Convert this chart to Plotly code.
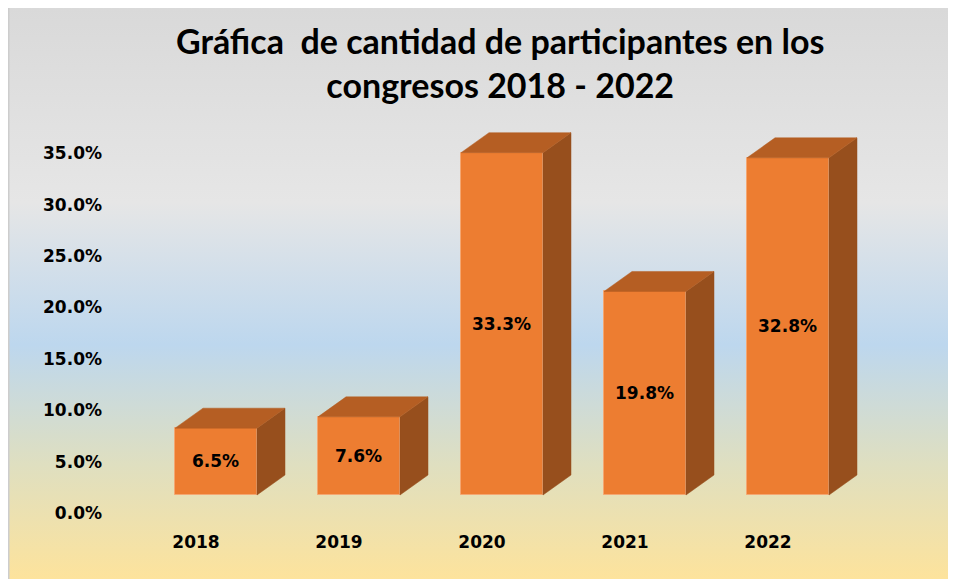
import base64
import plotly.graph_objects as go

# ---------------- data ----------------
years = ["2018", "2019", "2020", "2021", "2022"]
shares = [0.065, 0.076, 0.333, 0.198, 0.328]
y_ticks = [0.0, 0.05, 0.10, 0.15, 0.20, 0.25, 0.30, 0.35]
title_text = "Gráfica  de cantidad de participantes en los<br>congresos 2018 - 2022"

# ---------------- styling / geometry ----------------
OFF = 8                      # page body margin
W_FIG, H_FIG = 956 - OFF, 579 - OFF
PLOT_L, PLOT_R, PLOT_T, PLOT_B = 110, 900, 110, 530   # screen pixels
L, T = PLOT_L - OFF, PLOT_T - OFF
PW, PH = PLOT_R - PLOT_L, PLOT_B - PLOT_T
R, B = W_FIG - L - PW, H_FIG - T - PH
CAT_PX = 143.0       # pixels per category
CENTER0_PX = 216.0   # screen x of first bar centre
LABEL0_PX = 196.0    # screen x of first category label
PX_PER_UNIT = 1028.0 # pixels per 1.0 (=100%)
BASE_PX = 495.0      # screen y of the bar front base
TICK0_PX = 513.0     # screen y of the 0.0% tick label

bar_w = 82.0 / CAT_PX
dx = 28.0 / CAT_PX
dy = 20.0 / PX_PER_UNIT

FRONT = "#ED7D31"
TOP = "#B55E23"
SIDE = "#974F1D"
FONT = "DejaVu Sans"

x_pos = list(range(len(years)))

xmin = -(CENTER0_PX - PLOT_L) / CAT_PX
x_range = [xmin, xmin + PW / CAT_PX]
xmin2 = -(LABEL0_PX - PLOT_L) / CAT_PX
x_range2 = [xmin2, xmin2 + PW / CAT_PX]
ymin = -(PLOT_B - BASE_PX) / PX_PER_UNIT
y_range = [ymin, ymin + PH / PX_PER_UNIT]
ymin2 = -(PLOT_B - TICK0_PX) / PX_PER_UNIT
y_range2 = [ymin2, ymin2 + PH / PX_PER_UNIT]

# 3D faces derived from the data
top_x, top_y, side_x, side_y = [], [], [], []
for xc, v in zip(x_pos, shares):
    xl, xr = xc - bar_w / 2, xc + bar_w / 2
    top_x += [xl, xr, xr + dx, xl + dx, xl, None]
    top_y += [v, v, v + dy, v + dy, v, None]
    side_x += [xr, xr, xr + dx, xr + dx, xr, None]
    side_y += [0, v, v + dy, dy, 0, None]

fig = go.Figure()
fig.add_trace(go.Scatter(x=side_x, y=side_y, fill="toself", fillcolor=SIDE,
                         mode="lines", line=dict(color=SIDE, width=0.5),
                         hoverinfo="skip", showlegend=False))
fig.add_trace(go.Scatter(x=top_x, y=top_y, fill="toself", fillcolor=TOP,
                         mode="lines", line=dict(color=TOP, width=0.5),
                         hoverinfo="skip", showlegend=False))
fig.add_trace(go.Bar(x=x_pos, y=shares, width=bar_w,
                     marker=dict(color=FRONT, line=dict(color="#F4A772", width=1)),
                     texttemplate="%{y:.1%}", textposition="inside",
                     insidetextanchor="middle", textangle=0,
                     textfont=dict(family=FONT, size=17, color="#000000", weight="bold"),
                     showlegend=False, hoverinfo="skip"))
# invisible trace carrying the label axes
fig.add_trace(go.Scatter(x=x_pos, y=shares, xaxis="x2", yaxis="y2", mode="markers",
                         marker=dict(opacity=0), hoverinfo="skip", showlegend=False))

# gradient background as an SVG image covering the whole figure
svg = (
    "<svg xmlns='http://www.w3.org/2000/svg' width='948' height='571' viewBox='0 0 948 571' preserveAspectRatio='none'>"
    "<defs><linearGradient id='g' x1='0' y1='0' x2='0' y2='1'>"
    "<stop offset='0' stop-color='#d9d9d9'/>"
    "<stop offset='0.34' stop-color='#e6e6e6'/>"
    "<stop offset='0.59' stop-color='#bdd7ee'/>"
    "<stop offset='0.80' stop-color='#dfdfc0'/>"
    "<stop offset='1' stop-color='#fde39c'/>"
    "</linearGradient></defs>"
    "<rect x='0' y='0' width='948' height='571' fill='url(#g)'/>"
    "<rect x='0' y='0' width='1.5' height='571' fill='#cdcdcd'/>"
    "</svg>"
)
src = "data:image/svg+xml;base64," + base64.b64encode(svg.encode()).decode()
fig.add_layout_image(dict(
    source=src, xref="paper", yref="paper",
    x=-L / PW, y=1 + T / PH,
    sizex=W_FIG / PW, sizey=H_FIG / PH, sizing="stretch",
    xanchor="left", yanchor="top", layer="below"))

# title (two lines, centred around screen x=500, y=64)
fig.add_annotation(text=title_text, xref="paper", yref="paper",
                   x=(500 - PLOT_L) / PW, y=(PLOT_B - 63) / PH,
                   xanchor="center", yanchor="middle", showarrow=False,
                   font=dict(family="Lato", size=34, color="#000000", weight="bold"))

fig.update_layout(
    width=W_FIG, height=H_FIG,
    margin=dict(l=L, r=R, t=T, b=B),
    paper_bgcolor="white", plot_bgcolor="rgba(0,0,0,0)",
    xaxis=dict(range=x_range, showticklabels=False, showgrid=False, zeroline=False,
               showline=False, ticks=""),
    xaxis2=dict(range=x_range2, overlaying="x", side="bottom", tickvals=x_pos,
                ticktext=years, showgrid=False, zeroline=False, showline=False, ticks="",
                tickfont=dict(family=FONT, size=17, color="#000000", weight="bold")),
    yaxis=dict(range=y_range, showticklabels=False, showgrid=False, zeroline=False,
               showline=False, ticks=""),
    yaxis2=dict(range=y_range2, overlaying="y", side="left", tickvals=y_ticks,
                tickformat=".1%", showgrid=False, zeroline=False, showline=False, ticks="",
                ticklabelstandoff=7,
                tickfont=dict(family=FONT, size=17, color="#000000", weight="bold")),
    bargap=0,
)

fig.write_html("out.html")
